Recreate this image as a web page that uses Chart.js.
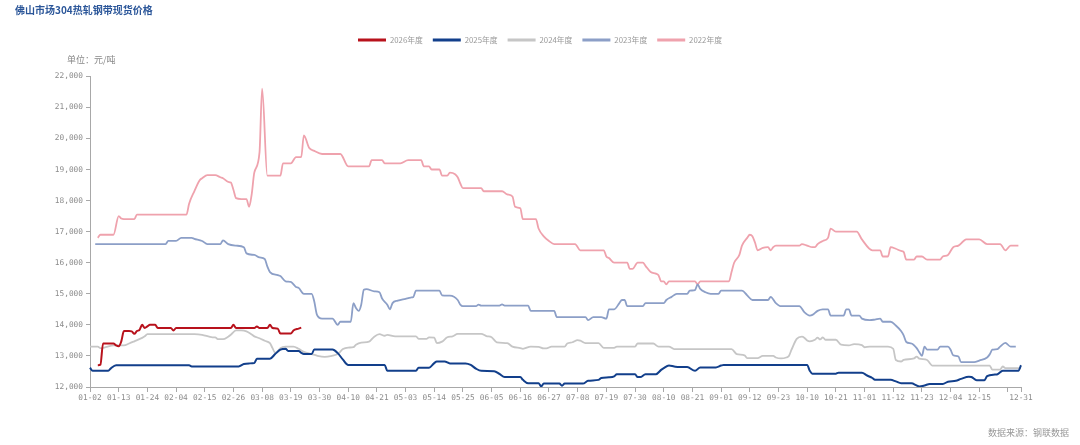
<!DOCTYPE html>
<html><head><meta charset="utf-8">
<script src="https://cdn.jsdelivr.net/npm/chart.js@4.4.1/dist/chart.umd.min.js"></script>
<style>
html,body{margin:0;padding:0;background:#fff;}
#wrap{position:relative;width:1080px;height:445px;overflow:hidden;background:#fff;}
#c{position:absolute;left:0;top:0;}
.t{position:absolute;white-space:nowrap;font-family:"Noto Sans CJK SC","Noto Sans",sans-serif;}
#title{left:15px;top:2px;font-size:10px;font-weight:700;color:#2b5699;line-height:16px;}
#unit{left:67px;top:54px;font-size:9px;color:#888;line-height:12px;}
#src{left:988px;top:427px;font-size:9px;color:#999;line-height:12px;}
</style></head><body>
<div id="wrap"><canvas id="c" width="1080" height="445"></canvas>
<div class="t" id="title">佛山市场304热轧钢带现货价格</div>
<div class="t" id="unit">单位：元/吨</div>
<div class="t" id="src">数据来源：钢联数据</div></div>
<script>
// ---- categories (trading calendar, MM-DD) ----
const skipDays = ['05-01','10-01','10-02','10-03','10-04','10-05','10-06'];
const categories = [];
(function(){
  const d = new Date(Date.UTC(2024,0,2));
  while (d.getUTCFullYear() === 2024) {
    const s = String(d.getUTCMonth()+1).padStart(2,'0') + '-' + String(d.getUTCDate()).padStart(2,'0');
    if (!skipDays.includes(s)) categories.push(s);
    d.setUTCDate(d.getUTCDate()+1);
  }
})();
const labelEvery = 11;

// ---- y ticks ----
const yMin = 12000, yMax = 22000, yStep = 1000;

// ---- series names ----
const seriesNames = ['2026年度','2025年度','2024年度','2023年度','2022年度'];

// ---- series values: [category index, price] ----
const p2026 = [[3,12700],[4,12720],[5,13400],[9,13400],[10,13340],[11,13310],[12,13470],[13,13800],[15,13800],[16,13790],[17,13710],[18,13800],[19,13840],[20,14000],[21,13900],[22,13950],[23,14000],[25,14000],[26,13900],[31,13900],[32,13820],[33,13900],[54,13900],[55,14000],[56,13900],[63,13900],[64,13950],[65,13900],[68,13900],[69,14000],[70,13900],[72,13880],[73,13720],[77,13720],[78,13820],[80,13880],[81,13910]];

const p2025 = [[0,12620],[1,12520],[7,12520],[8,12600],[10,12700],[38,12700],[39,12660],[57,12660],[59,12740],[61,12760],[63,12770],[64,12910],[69,12910],[71,13060],[73,13200],[75,13230],[76,13160],[80,13160],[81,13100],[82,13060],[85,13060],[86,13210],[93,13210],[95,13090],[97,12880],[99,12710],[113,12710],[114,12520],[125,12520],[126,12620],[130,12620],[132,12770],[133,12820],[136,12820],[138,12760],[144,12760],[146,12710],[148,12590],[150,12520],[155,12510],[157,12420],[159,12320],[165,12320],[166,12230],[168,12120],[172,12120],[173,12020],[174,12110],[180,12110],[181,12040],[182,12110],[189,12110],[191,12200],[195,12230],[196,12290],[199,12310],[201,12340],[202,12410],[209,12410],[210,12320],[211,12320],[213,12410],[217,12410],[219,12550],[220,12610],[222,12690],[224,12660],[226,12640],[229,12640],[232,12520],[234,12630],[240,12630],[242,12690],[243,12710],[275,12710],[276,12520],[277,12430],[286,12430],[287,12460],[296,12460],[298,12370],[300,12290],[301,12230],[307,12230],[309,12180],[311,12120],[315,12120],[317,12050],[318,12020],[320,12050],[322,12100],[327,12100],[329,12170],[332,12200],[334,12260],[337,12330],[338,12320],[340,12220],[343,12220],[344,12350],[347,12400],[348,12410],[350,12520],[356,12520],[357,12700]];

const p2024 = [[0,13300],[3,13300],[4,13250],[6,13280],[9,13340],[13,13340],[15,13400],[17,13470],[20,13580],[21,13630],[22,13700],[40,13700],[43,13680],[47,13600],[48,13600],[49,13540],[51,13540],[53,13620],[54,13680],[56,13820],[58,13820],[60,13790],[62,13690],[63,13630],[65,13570],[67,13490],[69,13410],[70,13250],[71,13100],[72,13150],[73,13250],[75,13300],[78,13300],[80,13230],[82,13130],[85,13060],[87,13010],[90,12970],[93,13010],[95,13060],[97,13220],[99,13270],[101,13280],[102,13360],[104,13430],[107,13460],[109,13620],[111,13700],[113,13650],[114,13680],[117,13630],[125,13630],[126,13550],[129,13550],[130,13600],[132,13590],[133,13410],[135,13460],[137,13600],[139,13630],[141,13710],[150,13710],[152,13640],[154,13600],[156,13440],[160,13410],[162,13300],[165,13250],[166,13230],[169,13300],[172,13290],[174,13240],[175,13240],[177,13300],[182,13300],[183,13400],[185,13440],[187,13510],[188,13490],[190,13410],[195,13410],[197,13260],[201,13260],[202,13300],[209,13300],[210,13400],[216,13400],[218,13300],[222,13300],[224,13220],[246,13220],[248,13060],[251,13020],[252,12930],[256,12930],[258,13000],[262,13000],[263,12950],[265,12920],[267,12950],[268,13000],[269,13200],[271,13550],[273,13620],[274,13580],[275,13500],[276,13470],[278,13520],[279,13590],[280,13530],[281,13600],[282,13520],[286,13520],[288,13360],[291,13340],[293,13380],[296,13350],[297,13280],[299,13300],[306,13300],[308,13230],[309,12870],[311,12820],[312,12870],[316,12920],[317,12980],[318,12910],[321,12870],[322,12770],[323,12690],[345,12690],[346,12560],[349,12560],[350,12660],[351,12610],[357,12610]];

const p2023 = [[2,16600],[29,16600],[30,16700],[33,16700],[35,16800],[39,16800],[40,16770],[43,16700],[45,16600],[50,16600],[51,16720],[53,16600],[56,16550],[59,16500],[60,16300],[63,16250],[65,16170],[67,16120],[68,15880],[69,15700],[72,15600],[73,15570],[75,15400],[77,15380],[79,15220],[80,15190],[82,15000],[85,15000],[86,14750],[87,14330],[89,14200],[93,14200],[95,14000],[96,14100],[100,14100],[101,14700],[102,14540],[103,14450],[104,14650],[105,15130],[106,15150],[109,15080],[111,15050],[112,14850],[114,14650],[115,14500],[116,14700],[118,14780],[121,14840],[123,14880],[124,14900],[125,15100],[134,15100],[135,14950],[138,14940],[141,14800],[142,14650],[143,14600],[148,14600],[149,14650],[150,14620],[157,14620],[158,14660],[159,14620],[168,14620],[169,14450],[178,14450],[179,14250],[190,14250],[191,14150],[193,14250],[196,14250],[198,14200],[199,14500],[201,14500],[203,14700],[204,14800],[205,14800],[206,14600],[212,14600],[213,14700],[220,14700],[221,14800],[223,14900],[225,15000],[229,15000],[230,15100],[232,15120],[233,15300],[234,15160],[236,15050],[238,15000],[241,15000],[242,15100],[250,15100],[252,14950],[254,14800],[260,14800],[261,14900],[263,14700],[265,14600],[272,14600],[274,14400],[276,14300],[277,14320],[279,14450],[281,14500],[283,14500],[284,14300],[289,14300],[290,14500],[291,14500],[292,14300],[295,14300],[296,14200],[299,14150],[301,14170],[303,14200],[304,14100],[307,14100],[309,13980],[311,13800],[312,13660],[313,13450],[315,13400],[317,13250],[318,13120],[319,13000],[320,13300],[321,13200],[325,13200],[326,13300],[329,13300],[330,13200],[331,13020],[333,12980],[334,12800],[339,12800],[341,12850],[344,12950],[345,13050],[346,13200],[348,13220],[349,13300],[351,13420],[353,13300],[355,13300]];

const p2022 = [[3,16800],[4,16900],[9,16900],[11,17500],[12,17420],[13,17400],[17,17400],[18,17550],[37,17550],[38,17900],[40,18300],[42,18650],[43,18720],[45,18820],[48,18820],[50,18750],[51,18720],[53,18600],[54,18580],[55,18350],[56,18080],[58,18050],[60,18050],[61,17800],[62,18200],[63,18900],[65,19550],[66,21600],[68,18800],[73,18800],[74,19200],[77,19200],[79,19400],[81,19400],[82,20100],[84,19700],[86,19600],[89,19500],[96,19500],[99,19100],[107,19100],[108,19300],[112,19300],[113,19200],[119,19200],[122,19300],[127,19300],[128,19100],[130,19100],[131,19000],[134,19000],[135,18800],[137,18800],[138,18900],[140,18850],[141,18750],[142,18550],[143,18400],[150,18400],[151,18300],[158,18300],[160,18200],[162,18130],[163,17800],[165,17750],[166,17400],[171,17400],[172,17100],[174,16850],[176,16700],[178,16600],[186,16600],[188,16400],[197,16400],[198,16200],[199,16150],[201,16000],[206,16000],[207,15800],[208,15800],[210,16000],[212,16000],[213,15900],[215,15700],[217,15650],[218,15600],[219,15400],[220,15400],[221,15300],[222,15400],[232,15400],[233,15300],[234,15400],[245,15400],[246,15700],[247,16000],[249,16250],[250,16550],[252,16800],[253,16900],[254,16850],[255,16650],[256,16400],[258,16480],[260,16500],[261,16400],[262,16500],[263,16550],[272,16550],[273,16600],[275,16550],[277,16500],[278,16500],[279,16600],[281,16700],[283,16800],[284,17100],[286,17000],[294,17000],[296,16750],[300,16400],[303,16400],[304,16200],[306,16200],[307,16500],[309,16450],[311,16380],[312,16350],[313,16100],[316,16100],[317,16200],[319,16200],[321,16100],[326,16100],[327,16200],[329,16250],[331,16500],[333,16550],[335,16700],[336,16750],[341,16750],[344,16600],[349,16600],[351,16400],[353,16550],[356,16550]];

const seriesValues = [p2026, p2025, p2024, p2023, p2022];
const seriesColors = ['#b8121c','#123f8b','#c6c6c6','#8c9fc7','#efa2ad'];
const seriesWidths = [2, 2, 1.8, 1.8, 1.8];

const toPoints = arr => arr.map(([i, v]) => ({ x: categories[i], y: v }));

const isTickIdx = i => (i % labelEvery === 0) || i === categories.length - 1;
const isLabelIdx = i => (i % labelEvery === 0 && (categories.length - 1 - i) > 8) || i === categories.length - 1;

const legendGap = {
  id: 'legendGap',
  beforeLayout(chart) {
    const lg = chart.legend;
    if (lg && !lg.__gap) {
      const f = lg.fit;
      lg.fit = function () { f.apply(this, arguments); this.height += 22.5; };
      lg.__gap = true;
    }
  }
};

const axisColor = '#a8a8a8';
const tickFont = { family: '"DejaVu Sans Mono", "Liberation Mono", monospace', size: 7.8 };

new Chart(document.getElementById('c'), {
  type: 'line',
  data: {
    labels: categories,
    datasets: seriesNames.map((name, k) => ({
      label: name,
      data: toPoints(seriesValues[k]),
      borderColor: seriesColors[k],
      backgroundColor: seriesColors[k],
      borderWidth: seriesWidths[k],
      pointRadius: 0,
      pointHoverRadius: 0,
      fill: false,
      cubicInterpolationMode: 'monotone'
    }))
  },
  options: {
    responsive: false,
    animation: false,
    events: [],
    layout: { padding: { left: 28, right: 28, top: 26, bottom: 38 } },
    plugins: {
      tooltip: { enabled: false },
      title: { display: false },
      legend: {
        display: true,
        position: 'top',
        align: 'center',
        labels: {
          boxWidth: 28,
          boxHeight: 3,
          padding: 10,
          color: '#999',
          font: { family: '"Noto Sans CJK SC", "Noto Sans", sans-serif', size: 7.8 },
          generateLabels(chart) {
            const items = Chart.defaults.plugins.legend.labels.generateLabels(chart);
            items.forEach(it => {
              const ds = chart.data.datasets[it.datasetIndex];
              it.fillStyle = ds.borderColor;
              it.strokeStyle = ds.borderColor;
              it.lineWidth = 0;
            });
            return items;
          }
        }
      }
    },
    scales: {
      x: {
        type: 'category',
        offset: false,
        afterFit(scale) { scale.height = 20; },
        border: { display: true, color: axisColor, width: 1 },
        grid: {
          drawOnChartArea: false,
          drawTicks: true,
          tickLength: 5,
          offset: false,
          color: ctx => isTickIdx(ctx.index) ? axisColor : 'rgba(0,0,0,0)'
        },
        ticks: {
          autoSkip: false,
          maxRotation: 0,
          minRotation: 0,
          padding: 1,
          color: '#8c8c8c',
          font: tickFont,
          callback(value, index) { return isLabelIdx(index) ? categories[index] : ''; }
        }
      },
      y: {
        type: 'linear',
        position: 'left',
        min: yMin,
        max: yMax,
        afterFit(scale) { scale.width = 62; },
        border: { display: true, color: axisColor, width: 1 },
        grid: { drawOnChartArea: false, drawTicks: true, tickLength: 4, color: axisColor },
        ticks: {
          stepSize: yStep,
          padding: 3,
          color: '#8c8c8c',
          font: tickFont,
          callback: v => v.toLocaleString('en-US')
        }
      },
      yRight: {
        type: 'linear',
        position: 'right',
        min: 0,
        max: 1,
        afterFit(scale) { scale.width = 31; },
        border: { display: false },
        grid: { display: false, drawTicks: false },
        ticks: { display: false }
      }
    }
  },
  plugins: [legendGap]
});
</script>
</body></html>
